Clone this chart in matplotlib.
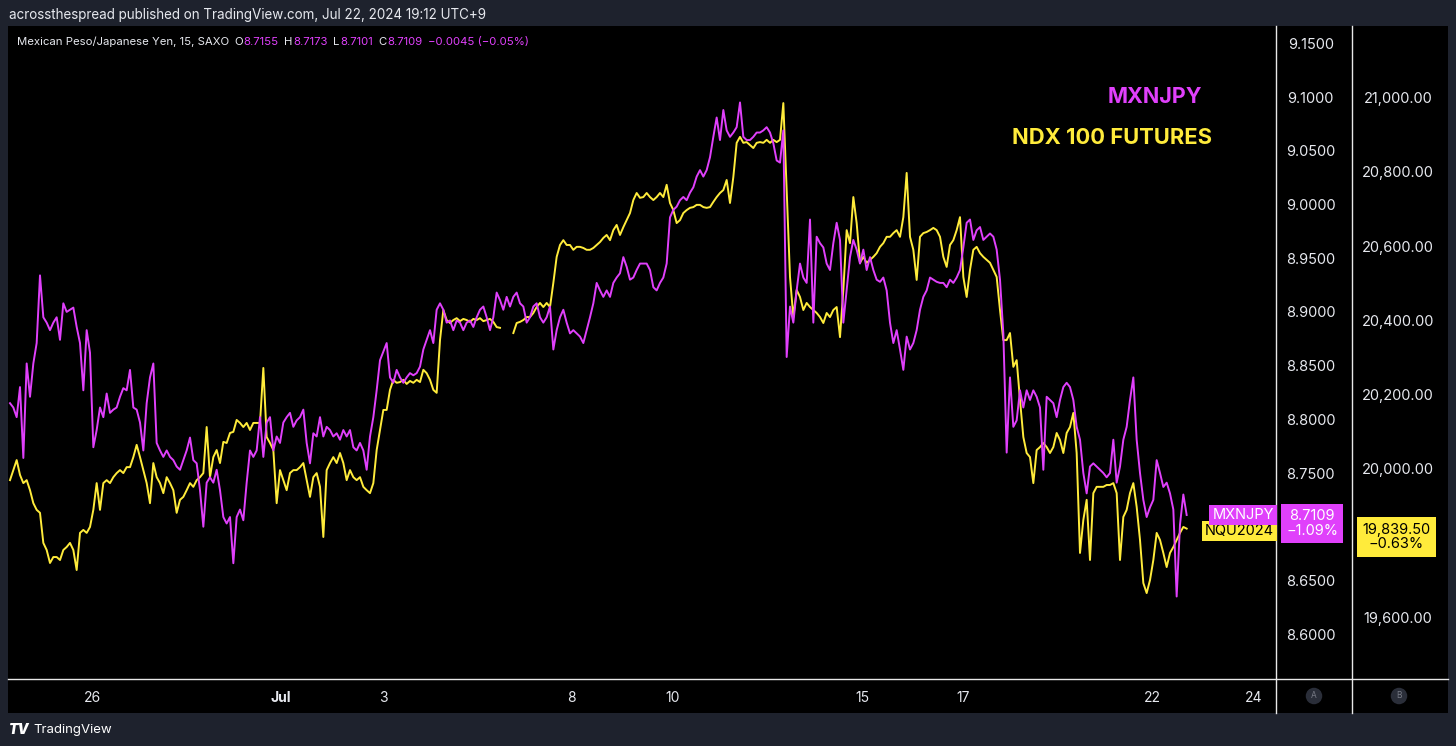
"""
MXNJPY vs NDX 100 futures - TradingView style snapshot
"""
import numpy as np
import matplotlib
matplotlib.use("Agg")
import matplotlib.pyplot as plt
from matplotlib.lines import Line2D
from matplotlib.patches import Rectangle

# ---- data (15m bars, thinned: one value every few bars) ----
mxnjpy = [
    8.815, 8.811, 8.802, 8.830, 8.764, 8.852, 8.821, 8.852, 8.871, 8.934,
    8.895, 8.890, 8.883, 8.890, 8.895, 8.874, 8.908, 8.900, 8.902, 8.904,
    8.886, 8.871, 8.827, 8.883, 8.862, 8.774, 8.790, 8.811, 8.802, 8.824,
    8.806, 8.809, 8.811, 8.821, 8.829, 8.827, 8.846, 8.811, 8.809, 8.797,
    8.771, 8.815, 8.839, 8.852, 8.778, 8.771, 8.765, 8.771, 8.765, 8.762,
    8.756, 8.753, 8.762, 8.771, 8.783, 8.762, 8.759, 8.734, 8.700, 8.741,
    8.746, 8.741, 8.753, 8.734, 8.709, 8.703, 8.709, 8.666, 8.709, 8.716,
    8.706, 8.741, 8.771, 8.765, 8.771, 8.802, 8.765, 8.797, 8.802, 8.771,
    8.784, 8.778, 8.797, 8.802, 8.806, 8.793, 8.799, 8.802, 8.809, 8.778,
    8.759, 8.787, 8.784, 8.802, 8.784, 8.793, 8.790, 8.784, 8.787, 8.781,
    8.790, 8.784, 8.790, 8.774, 8.771, 8.778, 8.771, 8.753, 8.784, 8.802,
    8.827, 8.855, 8.863, 8.871, 8.839, 8.834, 8.846, 8.839, 8.834, 8.839,
    8.843, 8.841, 8.843, 8.849, 8.865, 8.874, 8.883, 8.871, 8.902, 8.908,
    8.902, 8.890, 8.892, 8.883, 8.892, 8.890, 8.883, 8.890, 8.892, 8.886,
    8.895, 8.902, 8.905, 8.895, 8.883, 8.895, 8.918, 8.911, 8.902, 8.914,
    8.905, 8.914, 8.918, 8.908, 8.905, 8.890, 8.895, 8.905, 8.908, 8.895,
    8.890, 8.895, 8.905, 8.865, 8.883, 8.895, 8.902, 8.890, 8.880, 8.883,
    8.880, 8.877, 8.871, 8.883, 8.895, 8.908, 8.927, 8.920, 8.914, 8.920,
    8.914, 8.927, 8.932, 8.936, 8.951, 8.942, 8.930, 8.932, 8.939, 8.945,
    8.945, 8.945, 8.939, 8.923, 8.920, 8.927, 8.932, 8.945, 8.988, 8.995,
    8.998, 9.004, 9.007, 9.004, 9.011, 9.016, 9.026, 9.032, 9.026, 9.032,
    9.044, 9.063, 9.081, 9.060, 9.088, 9.069, 9.063, 9.067, 9.072, 9.095,
    9.063, 9.060, 9.060, 9.063, 9.067, 9.067, 9.069, 9.072, 9.067, 9.057,
    9.041, 9.039, 9.069, 8.858, 8.905, 8.890, 8.920, 8.945, 8.932, 8.927,
    8.986, 8.890, 8.970, 8.964, 8.960, 8.945, 8.939, 8.964, 8.983, 8.967,
    8.890, 8.920, 8.951, 8.967, 8.958, 8.945, 8.958, 8.939, 8.951, 8.939,
    8.930, 8.928, 8.932, 8.920, 8.890, 8.871, 8.883, 8.865, 8.846, 8.877,
    8.865, 8.871, 8.883, 8.902, 8.914, 8.920, 8.932, 8.930, 8.928, 8.927,
    8.927, 8.923, 8.930, 8.927, 8.932, 8.939, 8.960, 8.983, 8.986, 8.967,
    8.976, 8.979, 8.967, 8.970, 8.973, 8.970, 8.958, 8.930, 8.880, 8.769,
    8.839, 8.793, 8.799, 8.827, 8.811, 8.827, 8.818, 8.827, 8.821, 8.811,
    8.753, 8.821, 8.818, 8.815, 8.802, 8.818, 8.830, 8.834, 8.830, 8.818,
    8.793, 8.781, 8.750, 8.731, 8.756, 8.759, 8.756, 8.753, 8.750, 8.746,
    8.750, 8.781, 8.741, 8.756, 8.781, 8.793, 8.818, 8.839, 8.781, 8.750,
    8.725, 8.709, 8.718, 8.725, 8.762, 8.750, 8.737, 8.741, 8.731, 8.716,
    8.635, 8.702, 8.730, 8.7109,
]

nan = np.nan
ndx = [
    19970, 19997, 20024, 19984, 19962, 19970, 19943, 19908, 19890, 19882,
    19801, 19782, 19747, 19763, 19763, 19755, 19782, 19790, 19801, 19782,
    19728, 19828, 19836, 19828, 19844, 19890, 19962, 19890, 19962, 19970,
    19962, 19978, 19989, 19997, 19989, 20005, 20005, 20032, 20065, 20032,
    19997, 19962, 19908, 20016, 19978, 19962, 19935, 19978, 19962, 19943,
    19882, 19917, 19925, 19943, 19962, 19952, 19970, 19978, 19989, 20113,
    19978, 20032, 20051, 20016, 20073, 20070, 20097, 20100, 20132, 20124,
    20113, 20124, 20105, 20124, 20124, 20124, 20272, 20086, 20070, 20051,
    19908, 19997, 19970, 19943, 19989, 19997, 19997, 20005, 20016, 19970,
    19925, 19978, 19989, 19952, 19817, 19997, 20016, 20032, 20016, 20043,
    20016, 19970, 19997, 19978, 19970, 19978, 19952, 19943, 19935, 19962,
    20051, 20105, 20159, 20159, 20213, 20240, 20232, 20234, 20240, 20229,
    20237, 20232, 20240, 20234, 20267, 20258, 20240, 20213, 20205, 20347,
    20428, 20401, 20393, 20401, 20406, 20398, 20404, 20401, 20396, 20404,
    20401, 20406, 20398, 20401, 20404, 20396, 20382, 20380, nan, nan,
    nan, 20366, 20393, 20396, 20401, 20409, 20409, 20420, 20436, 20447,
    20436, 20447, 20436, 20501, 20571, 20603, 20616, 20603, 20603, 20590,
    20598, 20598, 20595, 20590, 20590, 20595, 20603, 20611, 20622, 20630,
    20616, 20643, 20657, 20630, 20651, 20670, 20689, 20724, 20743, 20730,
    20732, 20743, 20732, 20724, 20732, 20743, 20732, 20765, 20716, 20697,
    20662, 20670, 20689, 20697, 20703, 20705, 20711, 20711, 20705, 20703,
    20705, 20719, 20732, 20743, 20751, 20778, 20716, 20786, 20878, 20894,
    20878, 20880, 20872, 20864, 20878, 20880, 20878, 20886, 20878, 20886,
    20880, 20886, 20985, 20751, 20517, 20409, 20482, 20463, 20428, 20447,
    20436, 20428, 20420, 20409, 20393, 20420, 20409, 20428, 20436, 20355,
    20482, 20643, 20608, 20732, 20662, 20555, 20571, 20555, 20563, 20571,
    20581, 20598, 20608, 20625, 20625, 20635, 20643, 20625, 20678, 20797,
    20625, 20590, 20509, 20625, 20635, 20638, 20643, 20649, 20643, 20625,
    20571, 20544, 20603, 20616, 20643, 20678, 20517, 20463, 20536, 20590,
    20598, 20581, 20571, 20563, 20555, 20536, 20517, 20428, 20347, 20347,
    20366, 20275, 20293, 20186, 20086, 20043, 20032, 19962, 20051, 20059,
    20070, 20059, 20043, 20059, 20097, 20078, 20043, 20097, 20113, 20151,
    20043, 19774, 19863, 19917, 19755, 19935, 19952, 19952, 19952, 19957,
    19957, 19962, 19935, 19755, 19871, 19890, 19935, 19962, 19898, 19809,
    19693, 19666, 19701, 19755, 19828, 19809, 19774, 19736, 19774, 19790,
    19809, 19828, 19844, 19839.5,
]

bars = np.arange(3, 3 + len(mxnjpy))

date_pos = [27.9, 84.3, 114.9, 171.3, 201.9, 258.6, 288.9, 345.6, 376.2]
date_lbl = ['26', 'Jul', '3', '8', '10', '15', '17', '22', '24']

mxn_ticks = [8.60, 8.65, 8.75, 8.80, 8.85, 8.90, 8.95, 9.00, 9.05, 9.10, 9.15]
ndx_ticks = [19600, 20000, 20200, 20400, 20600, 20800, 21000]

ohlc_keys = ['O', 'H', 'L', 'C']
ohlc_vals = ['8.7155', '8.7173', '8.7101', '8.7109']
mxn_chg = '−1.09%'
ndx_chg = '−0.63%'

# ---- style ----
BG = '#1e222d'
MAG = '#e040fb'
YEL = '#ffeb3b'
TXT = '#e6e8ee'
W, H = 1456, 746

plt.rcParams['font.family'] = ['Inter', 'DejaVu Sans']

fig = plt.figure(figsize=(W / 100, H / 100), dpi=100, facecolor=BG)

# black chart panel
fig.patches.append(Rectangle((8 / W, 1 - 713 / H), 1440 / W, 687 / H,
                             transform=fig.transFigure, fc='black', ec='none', zorder=-1))

ax_m = fig.add_axes([8 / W, 1 - 679 / H, 1268 / W, 653 / H])
ax_n = ax_m.twinx()
ax_m.set_zorder(2)
ax_n.set_zorder(1)
ax_m.patch.set_visible(False)
ax_n.patch.set_facecolor('black')

ax_n.plot(bars, ndx, color=YEL, lw=1.4)
ax_m.plot(bars, mxnjpy, color=MAG, lw=1.4)

ax_m.set_xlim(2.4, 382.8)
ax_m.set_ylim(8.5582, 9.1662)
ax_n.set_ylim(19434.7, 21192.5)

for a in (ax_m, ax_n):
    for s in a.spines.values():
        s.set_visible(False)

# x axis dates
ax_m.set_xticks(date_pos, date_lbl)
ax_m.tick_params(axis='x', length=0, pad=9, labelsize=10, labelcolor=TXT)
ax_m.get_xticklabels()[1].set_fontweight('bold')

# price scales
ax_m.yaxis.tick_right()
ax_m.set_yticks(mxn_ticks, [f'{v:.4f}' for v in mxn_ticks])
ax_m.tick_params(axis='y', length=0, pad=25, labelsize=10.5, labelcolor=TXT)
plt.setp(ax_m.get_yticklabels(), ha='center')

ax_n.set_yticks(ndx_ticks, [f'{v:,.2f}' for v in ndx_ticks])
ax_n.tick_params(axis='y', length=0, pad=88, labelsize=10.5, labelcolor=TXT)
plt.setp(ax_n.get_yticklabels(), ha='center')

# separators
for x0 in (1276, 1352):
    fig.add_artist(Line2D([x0 / W, x0 / W], [1 - 713 / H, 1 - 26 / H], color='#e8e8e8', lw=1))
fig.add_artist(Line2D([8 / W, 1448 / W], [1 - 679 / H, 1 - 679 / H], color='#e8e8e8', lw=1))

# last value tags
ax_m.annotate('NQU2024', xy=(0.9984, ndx[-1]), xycoords=('axes fraction', ax_n.transData),
              xytext=(0, -1.5), textcoords='offset points',
              ha='right', va='center', fontsize=10.5, color='black', zorder=5,
              bbox=dict(boxstyle='square,pad=0.2', fc=YEL, ec='none'))
ax_m.annotate('MXNJPY', xy=(0.9984, mxnjpy[-1]), xycoords=('axes fraction', 'data'),
              ha='right', va='center', fontsize=10.5, color='white', zorder=6,
              bbox=dict(boxstyle='square,pad=0.22', fc=MAG, ec='none'))
ax_m.annotate(f'{mxnjpy[-1]:.4f}\n{mxn_chg}', xy=(1.0284, mxnjpy[-1]),
              xycoords=('axes fraction', 'data'), xytext=(0, -6), textcoords='offset points',
              ha='center', va='center', fontsize=10.5, color='white', linespacing=1.05,
              annotation_clip=False, zorder=6,
              bbox=dict(boxstyle='square,pad=0.35', fc=MAG, ec='none'))
ax_m.annotate(f'{ndx[-1]:,.2f}\n{ndx_chg}', xy=(1.0950, ndx[-1]),
              xycoords=('axes fraction', ax_n.transData), xytext=(0, -6), textcoords='offset points',
              ha='center', va='center', fontsize=10.5, color='black', linespacing=1.05,
              annotation_clip=False, zorder=6,
              bbox=dict(boxstyle='square,pad=0.38', fc=YEL, ec='none'))

# series names
ax_m.text(0.8675, 0.8913, 'MXNJPY', transform=ax_m.transAxes, color=MAG,
          fontsize=15.5, fontweight='bold', va='center', ha='left')
ax_m.text(0.7918, 0.8285, 'NDX 100 FUTURES', transform=ax_m.transAxes, color=YEL,
          fontsize=15.8, fontweight='bold', va='center', ha='left')

# header texts
fig.text(9 / W, 1 - 15 / H, 'acrossthespread published on TradingView.com, Jul 22, 2024 19:12 UTC+9',
         color=TXT, fontsize=9.7, va='center', ha='left')

prev = fig.text(17 / W, 1 - 42 / H, 'Mexican Peso/Japanese Yen, 15, SAXO',
                color=TXT, fontsize=8.2, va='center', ha='left')
for k, v in zip(ohlc_keys, ohlc_vals):
    prev = ax_m.annotate(k, xy=(1, 0), xycoords=prev, xytext=(4, 0), textcoords='offset points',
                         color=TXT, fontsize=8.2, va='bottom', ha='left', annotation_clip=False)
    prev = ax_m.annotate(v, xy=(1, 0), xycoords=prev, xytext=(0.3, 0), textcoords='offset points',
                         color=MAG, fontsize=8.2, va='bottom', ha='left', annotation_clip=False)
ax_m.annotate('−0.0045 (−0.05%)', xy=(1, 0), xycoords=prev, xytext=(4, 0), textcoords='offset points',
              color=MAG, fontsize=8.2, va='bottom', ha='left', annotation_clip=False)

# scale badges
for xc, s in ((1314, 'A'), (1399, 'B')):
    fig.text(xc / W, 1 - 696 / H, s, color='#787b86', fontsize=6, ha='center', va='center',
             bbox=dict(boxstyle='circle,pad=0.45', fc='#2a2e39', ec='none'))

# footer logo
fig.text(9 / W, 1 - 730 / H, 'TV', color='white', fontsize=10, fontweight='black',
         fontstyle='italic', va='center', ha='left')
fig.text(33 / W, 1 - 730 / H, 'TradingView', color='white', fontsize=9.5, va='center', ha='left')

fig.savefig('out.png', dpi=100, facecolor=BG)
